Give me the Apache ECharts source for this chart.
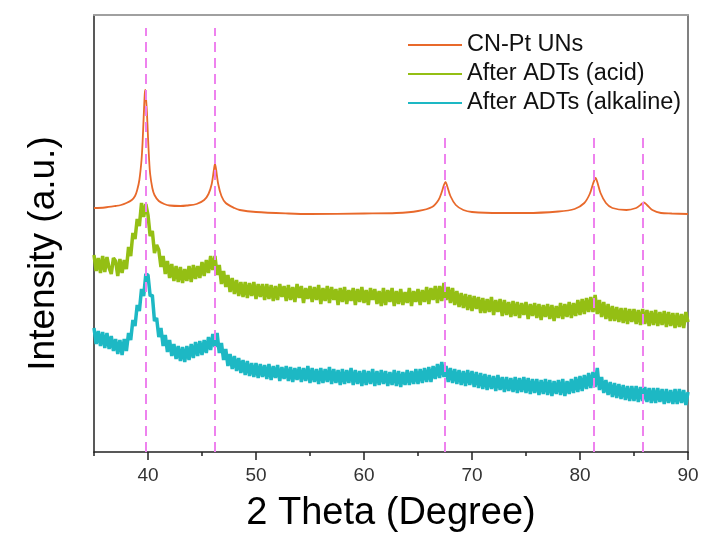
<!DOCTYPE html>
<html>
<head>
<meta charset="utf-8">
<script src="https://cdn.jsdelivr.net/npm/echarts@6/dist/echarts.min.js"></script>
<style>
html,body{margin:0;padding:0;background:#fff;}
#chart{width:702px;height:542px;}
</style>
</head>
<body>
<div id="chart"></div>
<script>
// ---- data (intensity in arbitrary units, offset-stacked) ----
const seriesNames = ['CN-Pt UNs', 'After ADTs (acid)', 'After ADTs (alkaline)'];
const majorTicks = [40, 50, 60, 70, 80, 90];
const minorTicks = [35, 45, 55, 65, 75, 85];
const peakPositions = [39.8, 46.2, 67.5, 81.3, 85.8];
const peakLineTops = [424, 424, 316, 316, 316];

const cnPtTheta = [35,36,37,37.5,38,38.5,38.8,39.0,39.2,39.4,39.5,39.6,39.7,39.75,39.8,39.9,40.0,40.1,40.2,40.4,40.6,41.0,41.5,42,43,43.6,44.5,45.2,45.6,45.9,46.1,46.2,46.3,46.5,46.8,47.2,48,48.5,50,53,55,60,63,65,66.3,66.9,67.2,67.4,67.55,67.7,68.0,68.5,69.2,70,72.6,75,78,79.5,80.4,80.9,81.2,81.45,81.6,81.9,82.4,83,84.3,85.2,85.6,85.9,86.2,86.7,87.5,88.5,90];
const cnPtValues = [244,244.5,246,247,249,252,256,262,272,292,310,335,358,362,356,340,315,293,278,264,257,251,248,246.5,246,246.5,248,252,258,268,282,288,283,268,256,249,244,242,240,238.5,238,238.5,239,241,245,252,260,267,270,266,256,247,242,240,239,239,240.5,243,249,258,268,274,270,259,249,244,242,244,247,249.5,247,242,239,238.5,238];

// noisy patterns sampled every 0.2 degree starting at 35
const scanStart = 35;
const scanStep = 0.2;
const acidValues = [
197,181,194,179,196, 180,195,184,178,194, 191,176,193,179,192, 183,205,196,219,213,
233,226,249,235,248, 237,216,221,199,207, 202,185,196,178,191, 174,188,171,186,170,
185,169,183,171,186, 170,187,173,186,174, 190,176,192,179,196, 182,196,177,187,168,
181,165,177,160,174, 158,172,156,170,155, 170,154,169,156,170, 153,168,155,168,152,
168,153,167,151,166, 152,168,155,166,151, 167,152,165,150,168, 154,166,149,164,153,
166,150,165,152,167, 148,164,151,166,149, 165,152,163,147,164, 150,165,148,162,151,
164,147,163,150,165, 149,162,147,164,152, 163,148,161,146,164, 147,162,150,164,146,
161,148,163,147,160, 149,164,146,161,150, 163,147,162,150,165, 148,164,152,166,149,
166,151,169,152,165, 149,164,147,161,145, 159,144,158,142,157, 141,156,143,155,139,
154,139,153,140,155, 137,152,140,153,136, 152,137,150,135,151, 136,150,134,149,137,
150,133,148,136,149, 134,148,132,147,135, 148,133,147,131,146, 134,149,133,148,135,
150,134,149,136,152, 137,153,138,154,140, 155,140,157,138,152, 135,150,133,148,131,
146,131,145,130,144, 129,144,128,143,130, 143,128,142,127,143, 128,142,126,141,127,
142,126,140,127,141, 125,140,126,139,124, 139,125,138,124,140, 130
];
const alkalineValues = [
124,108,121,106,120, 104,119,103,116,101, 113,98,112,97,113, 101,119,112,132,126,
147,141,163,156,178, 177,156,157,131,134, 115,124,106,117,100, 112,96,108,93,106,
91,105,90,106,92, 108,94,110,96,111, 97,112,99,115,102, 118,105,119,99,109,
92,103,86,98,83, 96,81,94,79,92, 77,91,76,89,75, 89,74,88,75,87,
73,88,72,86,74, 87,71,85,73,86, 71,85,70,84,72, 85,70,84,71,86,
69,84,70,83,68, 84,69,83,70,85, 68,83,69,82,67, 83,68,82,69,84,
67,82,68,81,66, 82,67,81,68,83, 66,81,67,82,68, 81,66,80,67,82,
66,81,65,80,67, 82,67,81,68,83, 68,83,69,84,70, 85,70,86,73,88,
74,90,75,86,70, 84,69,83,68,82, 67,81,66,82,67, 81,65,80,64,79,
63,78,62,77,63, 76,61,77,62,75, 60,75,61,74,60, 75,59,74,60,75,
59,74,58,73,59, 73,57,72,58,73, 57,72,56,71,58, 72,57,73,56,71,
58,73,59,75,60, 76,61,77,63,79, 64,80,65,84,62, 75,59,72,57,70,
55,69,54,68,53, 67,52,66,51,66, 51,66,50,65,51, 65,50,64,49,64,
49,64,50,63,48, 63,49,62,48,63, 48,63,49,62,47, 60
];

// ---- build ----
const cnPt = cnPtTheta.map((t, i) => [t, cnPtValues[i]]);
const toPairs = arr => arr.map((v, i) => [+(scanStart + scanStep * i).toFixed(1), v]);
const acid = toPairs(acidValues);
const alkaline = toPairs(alkalineValues);

const colors = ['#E8692B', '#94BF14', '#1DB8C4'];
const font = "'Liberation Sans', Arial, sans-serif";

const chart = echarts.init(document.getElementById('chart'), null, {renderer: 'canvas'});
chart.setOption({
  animation: false,
  backgroundColor: '#ffffff',
  color: colors,
  grid: {left: 94, right: 14, top: 15, bottom: 90, containLabel: false},
  legend: {
    show: true,
    data: seriesNames.map(n => ({name: n})),
    orient: 'vertical',
    left: 408,
    top: 33,
    padding: 0,
    z: 10,
    icon: 'rect',
    itemWidth: 54,
    itemHeight: 2,
    itemGap: 5,
    textStyle: {fontFamily: font, fontSize: 23.5, color: '#111'}
  },
  xAxis: [
    {
      type: 'value', position: 'bottom', min: 35, max: 90, interval: 5,
      name: '2 Theta (Degree)', nameLocation: 'middle', nameGap: 43,
      nameTextStyle: {fontFamily: font, fontSize: 38, color: '#000'},
      axisLine: {show: true, onZero: false, lineStyle: {color: '#222', width: 1.5}},
      axisTick: {show: true, customValues: majorTicks, length: 8, lineStyle: {color: '#222', width: 1.5}},
      axisLabel: {show: true, customValues: majorTicks, margin: 14, fontFamily: font, fontSize: 19, color: '#333'},
      splitLine: {show: false}
    },
    {
      type: 'value', position: 'bottom', min: 35, max: 90, interval: 5,
      axisLine: {show: false, onZero: false},
      axisTick: {show: true, customValues: minorTicks, length: 4, lineStyle: {color: '#222', width: 1.5}},
      axisLabel: {show: false},
      splitLine: {show: false}
    },
    {
      type: 'value', position: 'top', min: 35, max: 90, interval: 5,
      axisLine: {show: true, onZero: false, lineStyle: {color: '#a0a0a0', width: 2}},
      axisTick: {show: false}, axisLabel: {show: false}, splitLine: {show: false}
    }
  ],
  yAxis: [
    {
      type: 'value', position: 'left', min: 0, max: 437,
      name: 'Intensity (a.u.)', nameLocation: 'middle', nameGap: 32,
      nameTextStyle: {fontFamily: font, fontSize: 37, color: '#000', padding: [0, 40, 0, 0]},
      axisLine: {show: true, onZero: false, lineStyle: {color: '#222', width: 1.5}},
      axisTick: {show: false}, axisLabel: {show: false}, splitLine: {show: false}
    },
    {
      type: 'value', position: 'right', min: 0, max: 437,
      axisLine: {show: true, onZero: false, lineStyle: {color: '#808080', width: 2}},
      axisTick: {show: false}, axisLabel: {show: false}, splitLine: {show: false}
    }
  ],
  series: [
    {
      name: seriesNames[0], type: 'line', data: cnPt, symbol: 'none', smooth: 0.3,
      lineStyle: {width: 1.8, color: colors[0]}, z: 2
    },
    {
      name: seriesNames[1], type: 'line', data: acid, symbol: 'none',
      lineStyle: {width: 3.5, color: colors[1], join: 'bevel'}, z: 3
    },
    {
      name: seriesNames[2], type: 'line', data: alkaline, symbol: 'none',
      lineStyle: {width: 3.5, color: colors[2], join: 'bevel'}, z: 4,
      markLine: {
        silent: true, symbol: 'none', animation: false,
        label: {show: false},
        lineStyle: {color: '#EE82EE', type: [10, 6], width: 2},
        data: peakPositions.map((p, i) => [{coord: [p, 0]}, {coord: [p, peakLineTops[i]]}])
      }
    }
  ]
});
</script>
</body>
</html>
